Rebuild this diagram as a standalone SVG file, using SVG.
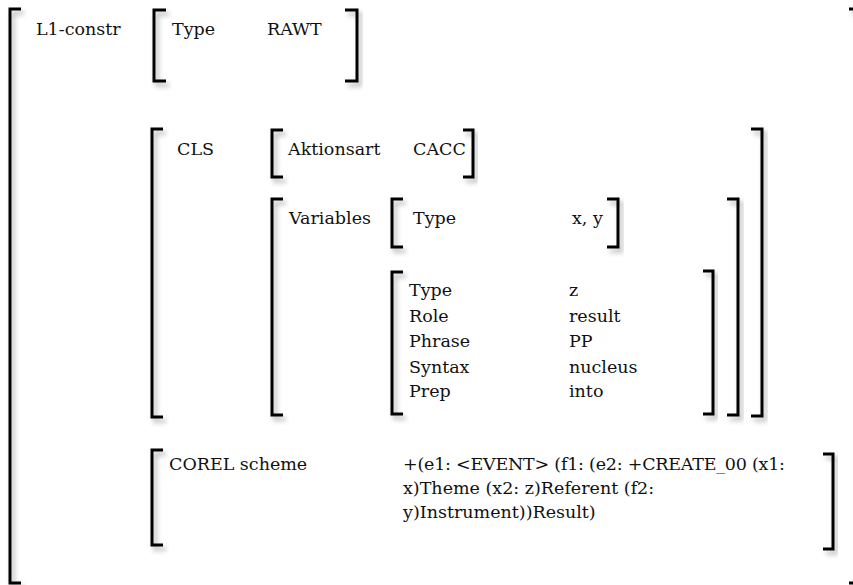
<svg xmlns="http://www.w3.org/2000/svg" width="853" height="585" viewBox="0 0 853 585">
<defs>
<filter id="sh" x="-50%" y="-10%" width="200%" height="130%">
<feDropShadow dx="3" dy="4" stdDeviation="2.5" flood-color="#000" flood-opacity="0.3"/>
</filter>
</defs>
<style>
text{font-family:"DejaVu Serif","Liberation Serif",serif;font-size:17.5px;fill:#111}
.br{fill:none;stroke:#000;stroke-width:3;stroke-linecap:butt;stroke-linejoin:miter;filter:url(#sh)}
</style>
<rect width="853" height="585" fill="#fff"/>
<g id="connectors"/>
<g id="l1-constr">
<path class="br" d="M21,9 H10 V583 H21"/>
<path class="br" d="M849,9 H856 V583 H849"/>
<text x="36" y="35">L1-constr</text>
</g>
<g id="type-rawt">
<path class="br" d="M166,10 H154 V81 H166"/>
<path class="br" d="M345,10 H357 V81 H345"/>
<text x="172" y="35">Type</text>
<text x="267" y="35">RAWT</text>
</g>
<g id="cls">
<path class="br" d="M163,129 H152 V417 H163"/>
<path class="br" d="M751,129 H762 V416 H751"/>
<text x="177" y="155">CLS</text>
</g>
<g id="aktionsart">
<path class="br" d="M283,130 H272 V177 H283"/>
<path class="br" d="M463,130 H473 V177 H463"/>
<text x="288" y="155">Aktionsart</text>
<text x="413" y="155">CACC</text>
</g>
<g id="variables">
<path class="br" d="M283,199 H272 V415 H283"/>
<path class="br" d="M727,199 H738 V415 H727"/>
<text x="289" y="224">Variables</text>
</g>
<g id="type-xy">
<path class="br" d="M403,199 H392 V247 H403"/>
<path class="br" d="M607,199 H618 V247 H607"/>
<text x="413" y="224">Type</text>
<text x="572" y="224">x, y</text>
</g>
<g id="type-z">
<path class="br" d="M403,272 H392 V414 H403"/>
<path class="br" d="M703,271 H713 V414 H703"/>
<text x="409" y="296">Type</text>
<text x="409" y="322">Role</text>
<text x="409" y="347">Phrase</text>
<text x="409" y="373">Syntax</text>
<text x="409" y="397">Prep</text>
<text x="569" y="296">z</text>
<text x="569" y="322">result</text>
<text x="569" y="347">PP</text>
<text x="569" y="373">nucleus</text>
<text x="569" y="397">into</text>
</g>
<g id="corel">
<path class="br" d="M163,450 H152 V545 H163"/>
<path class="br" d="M823,454 H833 V549 H823"/>
<text x="169" y="470">COREL scheme</text>
<text x="403" y="470" textLength="382" lengthAdjust="spacing">+(e1: &lt;EVENT&gt; (f1: (e2: +CREATE_00 (x1:</text>
<text x="403" y="494">x)Theme (x2: z)Referent (f2:</text>
<text x="403" y="518">y)Instrument))Result)</text>
</g>
</svg>
